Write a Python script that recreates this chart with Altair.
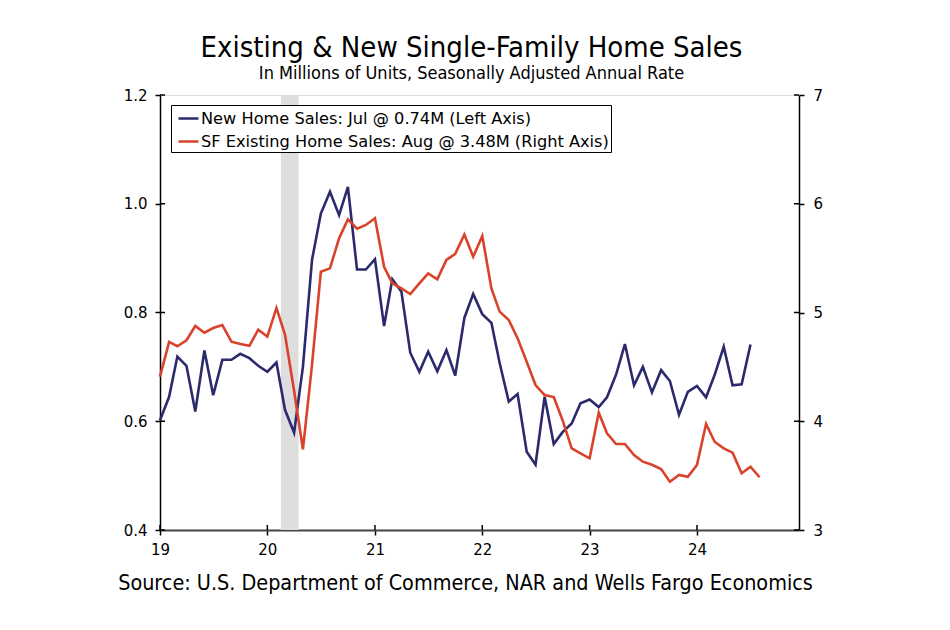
import altair as alt
import pandas as pd

# ---------------- data ----------------
NEW_LABEL = "New Home Sales: Jul @ 0.74M (Left Axis)"
EX_LABEL = "SF Existing Home Sales: Aug @ 3.48M (Right Axis)"

# New home sales, millions SAAR, monthly from Jan 2019 to Jul 2024
new_home_sales = [
    0.602, 0.645, 0.719, 0.702, 0.618, 0.730, 0.648, 0.713, 0.713, 0.724, 0.716, 0.702,
    0.691, 0.708, 0.621, 0.579, 0.700, 0.897, 0.982, 1.022, 0.979, 1.031, 0.879, 0.879,
    0.898, 0.775, 0.861, 0.838, 0.726, 0.691, 0.728, 0.692, 0.731, 0.684, 0.790, 0.834,
    0.797, 0.781, 0.707, 0.636, 0.650, 0.544, 0.520, 0.645, 0.558, 0.580, 0.596, 0.633,
    0.640, 0.626, 0.644, 0.686, 0.742, 0.666, 0.700, 0.653, 0.694, 0.674, 0.612, 0.654,
    0.665, 0.644, 0.685, 0.737, 0.666, 0.668, 0.741,
]
# Single-family existing home sales, millions SAAR, monthly from Jan 2019 to Aug 2024
sf_existing_sales = [
    4.41, 4.73, 4.69, 4.745, 4.876, 4.814, 4.857, 4.885, 4.732, 4.710, 4.694, 4.842,
    4.778, 5.042, 4.797, 4.28, 3.742, 4.52, 5.375, 5.406, 5.682, 5.857, 5.77, 5.805,
    5.866, 5.421, 5.268, 5.222, 5.170, 5.268, 5.360, 5.305, 5.483, 5.540, 5.717, 5.513,
    5.703, 5.222, 5.008, 4.931, 4.763, 4.548, 4.333, 4.241, 4.222, 4.01, 3.751, 3.705,
    3.659, 4.079, 3.889, 3.791, 3.791, 3.690, 3.628, 3.600, 3.560, 3.444, 3.506, 3.490,
    3.598, 3.975, 3.812, 3.751, 3.711, 3.521, 3.582, 3.485,
]
series_start = "2019-01-01"
recession_start = ["2020-02-16"]
recession_end = ["2020-04-16"]
tick_years = [2019, 2020, 2021, 2022, 2023, 2024]
left_ticks = [0.4, 0.6, 0.8, 1.0, 1.2]
right_ticks = [3, 4, 5, 6, 7]

TITLE = "Existing & New Single-Family Home Sales"
SUBTITLE = "In Millions of Units, Seasonally Adjusted Annual Rate"
SOURCE = "Source: U.S. Department of Commerce, NAR and Wells Fargo Economics"

BLUE = "#2c2a6c"
RED = "#d9432b"
FONT = "DejaVu Sans"
CFONT = "DejaVu Sans Condensed, Liberation Sans Narrow, DejaVu Sans"
W, H = 639, 435

# ---------------- tables ----------------
df_new = pd.DataFrame({
    "date": pd.date_range(series_start, periods=len(new_home_sales), freq="MS"),
    "value": new_home_sales,
    "series": NEW_LABEL,
})
df_ex = pd.DataFrame({
    "date": pd.date_range(series_start, periods=len(sf_existing_sales), freq="MS"),
    "value": sf_existing_sales,
    "series": EX_LABEL,
})
df_rec = pd.DataFrame({
    "start": pd.to_datetime(recession_start),
    "end": pd.to_datetime(recession_end),
})
df_lt = pd.DataFrame({"value": left_ticks})
df_rt = pd.DataFrame({"value": right_ticks})
df_xt = pd.DataFrame({"date": pd.to_datetime([f"{y}-01-01" for y in tick_years])})

x_scale = alt.Scale(domain=[alt.DateTime(year=2019, month=1, date=1),
                            alt.DateTime(year=2024, month=12, date=13)])
left_scale = alt.Scale(domain=[0.4, 1.2], nice=False, zero=False)
right_scale = alt.Scale(domain=[3, 7], nice=False, zero=False)

x_axis = alt.Axis(
    values=[alt.DateTime(year=y, month=1, date=1) for y in tick_years],
    format="%y", title=SOURCE, grid=False, labelFlush=False,
    labelFont=FONT, labelFontSize=15, labelColor="black", labelPadding=7,
    tickSize=5, tickColor="black", tickWidth=1.5,
    domainColor="#444", domainWidth=2,
    titleFont=CFONT, titleFontSize=21.4, titleFontWeight="normal", titleColor="black",
    titleX=305, titleY=59, titleAlign="center", titleBaseline="alphabetic",
)

color_enc = alt.Color(
    "series:N",
    scale=alt.Scale(domain=[NEW_LABEL, EX_LABEL], range=[BLUE, RED]),
    legend=alt.Legend(
        title=None, orient="none", legendX=11, legendY=10, direction="vertical",
        strokeColor="black", fillColor="white", padding=2,
        labelFont=FONT, labelFontSize=16.2, labelColor="black", labelLimit=700,
        labelOffset=1, symbolType="stroke", symbolSize=400, symbolStrokeWidth=2.5,
        symbolOffset=4, rowPadding=3,
    ),
)

rec = alt.Chart(df_rec).mark_rect(color="#dedede").encode(
    x=alt.X("start:T", scale=x_scale, axis=x_axis),
    x2="end:T",
)

blue = alt.Chart(df_new).mark_line(strokeWidth=2.6).encode(
    x=alt.X("date:T", scale=x_scale, axis=x_axis),
    y=alt.Y("value:Q", scale=left_scale,
            axis=alt.Axis(orient="left", values=left_ticks, format=".1f", title=None,
                          grid=False, labelFont=FONT, labelFontSize=15, labelColor="black",
                          labelPadding=8, tickSize=5, tickColor="black", tickWidth=1.5,
                          domainColor="black", domainWidth=1.5)),
    color=color_enc,
)

red = alt.Chart(df_ex).mark_line(strokeWidth=2.6).encode(
    x=alt.X("date:T", scale=x_scale, axis=x_axis),
    y=alt.Y("value:Q", scale=right_scale,
            axis=alt.Axis(orient="right", values=right_ticks, format="d", title=None,
                          grid=False, labelFont=FONT, labelFontSize=15, labelColor="black",
                          labelPadding=9, tickSize=5, tickColor="black", tickWidth=1.5,
                          domainColor="black", domainWidth=1.5)),
    color=color_enc,
)

# inner halves of the crossing tick marks
lt_in = alt.Chart(df_lt).mark_rule(color="black", strokeWidth=1.5).encode(
    y=alt.Y("value:Q", scale=left_scale, axis=None),
    x=alt.value(0), x2=alt.value(5),
)
rt_in = alt.Chart(df_rt).mark_rule(color="black", strokeWidth=1.5).encode(
    y=alt.Y("value:Q", scale=right_scale, axis=None),
    x=alt.value(W - 5), x2=alt.value(W),
)
xt_in = alt.Chart(df_xt).mark_rule(color="black", strokeWidth=1.5).encode(
    x=alt.X("date:T", scale=x_scale, axis=x_axis),
    y=alt.value(H - 5), y2=alt.value(H),
)

chart = alt.layer(rec, blue, red, lt_in, rt_in, xt_in).resolve_scale(
    y="independent"
).properties(
    width=W, height=H,
    autosize=alt.AutoSizeParams(type="none"),
    padding={"left": 152, "top": 87, "right": 100, "bottom": 90},
    title=alt.TitleParams(
        text=TITLE, subtitle=SUBTITLE, anchor="middle", frame="group", dx=-8,
        offset=5, font=CFONT, fontSize=29, fontWeight="normal", color="black",
        subtitleFont=CFONT, subtitleFontSize=18, subtitleColor="black",
        subtitlePadding=2,
    ),
).configure_view(stroke="#444", strokeWidth=1.5).configure(background="white")

chart.save("out.html", embed_options={"renderer": "svg", "actions": False})
